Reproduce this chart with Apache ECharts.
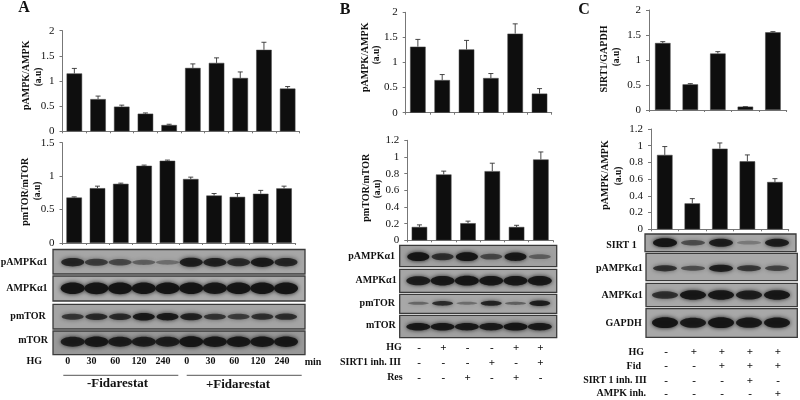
<!DOCTYPE html>
<html><head><meta charset="utf-8">
<script src="https://cdn.jsdelivr.net/npm/echarts@6/dist/echarts.min.js"></script>
<style>html,body{margin:0;padding:0;background:#fff}#c{width:800px;height:400px;filter:blur(0.45px)}</style>
</head><body><div id="c"></div>
<script>
// ---- values: bar value, top of error whisker ----
const timeLabels = ['0','30','60','120','240','0','30','60','120','240'];
const a1Values = [1.15,0.64,0.49,0.35,0.125,1.26,1.36,1.06,1.62,0.85];
const a1Tops   = [1.25,0.70,0.52,0.365,0.14,1.34,1.46,1.18,1.77,0.89];
const a2Values = [0.68,0.82,0.885,1.155,1.23,0.957,0.71,0.69,0.737,0.817];
const a2Tops   = [0.69,0.85,0.895,1.165,1.24,0.985,0.74,0.74,0.787,0.85];
const b1Values = [1.315,0.65,1.26,0.69,1.575,0.38];
const b1Tops   = [1.46,0.76,1.44,0.78,1.77,0.48];
const b2Values = [0.16,0.79,0.205,0.83,0.16,0.97];
const b2Tops   = [0.185,0.83,0.23,0.925,0.18,1.06];
const c1Values = [1.34,0.513,1.13,0.067,1.553];
const c1Tops   = [1.367,0.527,1.167,0.067,1.567];
const c2Values = [0.89,0.31,0.965,0.813,0.566];
const c2Tops   = [0.99,0.367,1.033,0.89,0.606];
// ---- blot band signal, 0..1 ----
const aPampk = [.75,.55,.45,.28,.18,.85,.8,.7,.88,.75];
const aAmpk  = [.95,.97,.97,.95,.95,.95,.92,.95,.95,.97];
const aPmtor = [.6,.72,.72,.9,.88,.8,.62,.55,.65,.68];
const aMtor  = [.85,.92,.85,.85,.85,.97,.92,.92,.92,.92];
const bPampk = [.97,.65,.97,.45,.9,.28];
const bAmpk  = [.85,.92,.97,.92,.92,.92];
const bPmtor = [.25,.7,.2,.78,.3,.85];
const bMtor  = [.9,.9,.88,.88,.95,.88];
const cSirt  = [.97,.42,.85,.1,.85];
const cPampk = [.65,.42,.85,.6,.5];
const cAmpk  = [.65,.92,.92,.85,.92];
const cGapdh = [.97,.88,.97,.9,.9];
// ---- treatment rows ----
const bHG   = ['-','+','-','-','+','+'];
const bSirt = ['-','-','-','+','-','+'];
const bRes  = ['-','-','+','-','+','-'];
const cHG   = ['-','+','+','+','+'];
const cFid  = ['-','-','+','+','+'];
const cSirtInh = ['-','-','-','+','-'];
const cAmpkInh = ['-','-','-','-','+'];

const SERIF = '"Liberation Serif","Times New Roman",serif';
const BLACK = '#0e0e0e';

const charts = [
 {vals:a1Values,tops:a1Tops,l:62.5,r:299.5,t:30.7,b:131.3,max:2,step:.5,title:'pAMPK/AMPK',tx:26,ty:75.3,ux:39,uy:77},
 {vals:a2Values,tops:a2Tops,l:62.5,r:295.7,t:142.7,b:243,max:1.5,step:.5,title:'pmTOR/mTOR',tx:25.3,ty:191.7,ux:37.7,uy:191},
 {vals:b1Values,tops:b1Tops,l:405.7,r:551.7,t:12.3,b:112.7,max:2,step:.5,title:'pAMPK/AMPK',tx:365,ty:57.3,ux:376.7,uy:55},
 {vals:b2Values,tops:b2Tops,l:407.3,r:553,t:140.3,b:240.3,max:1.2,step:.2,title:'pmTOR/mTOR',tx:366,ty:187.7,ux:377.7,uy:189},
 {vals:c1Values,tops:c1Tops,l:649,r:786.7,t:10,b:110,max:2,step:.5,title:'SIRT1/GAPDH',tx:604,ty:59,ux:616.7,uy:57},
 {vals:c2Values,tops:c2Tops,l:651,r:788.7,t:129,b:229.3,max:1.2,step:.2,title:'pAMPK/AMPK',tx:605.3,ty:175,ux:618.3,uy:176}
];
const blots = [
 {sig:aPampk,name:'pAMPKα1',l:53,r:305,t:249.5,b:274,by:262.3,lane0:72.7,step:23.7,w:23,th:10,nx:47.5,ny:262.7,bg:'#a6a6a6'},
 {sig:aAmpk,name:'AMPKα1',l:53,r:305,t:276,b:301,by:288.3,lane0:72.7,step:23.7,w:24,th:12,nx:47.5,ny:288,bg:'#ababab'},
 {sig:aPmtor,name:'pmTOR',l:53,r:305,t:304.3,b:329,by:316.7,lane0:72.7,step:23.7,w:22,th:8,nx:45.7,ny:316,bg:'#a4a4a4'},
 {sig:aMtor,name:'mTOR',l:53,r:305,t:331,b:354.7,by:341.7,lane0:72.7,step:23.7,w:24,th:11,nx:48,ny:340,bg:'#989898'},
 {sig:bPampk,name:'pAMPKα1',l:399.7,r:556.7,t:245.3,b:266.7,by:256.7,lane0:418.3,step:24.3,w:22,th:9,nx:395,ny:256,bg:'#a0a0a0'},
 {sig:bAmpk,name:'AMPKα1',l:399.7,r:556.7,t:269.3,b:292.3,by:280.7,lane0:418.3,step:24.3,w:24,th:10,nx:396.7,ny:280,bg:'#a6a6a6'},
 {sig:bPmtor,name:'pmTOR',l:399.7,r:556.7,t:294.3,b:313.3,by:303.3,lane0:418.3,step:24.3,w:21,th:6,nx:395,ny:303.3,bg:'#a8a8a8'},
 {sig:bMtor,name:'mTOR',l:399.7,r:556.7,t:315.3,b:337.7,by:326.7,lane0:418.3,step:24.3,w:24,th:8,nx:395.7,ny:325.7,bg:'#a0a0a0'},
 {sig:cSirt,name:'SIRT 1',l:645,r:796,t:234,b:251.7,by:242.7,lane0:665,step:28,w:24,th:9,nx:636.7,ny:245.7,bg:'#a6a6a6'},
 {sig:cPampk,name:'pAMPKα1',l:646,r:797.3,t:253.3,b:280.7,by:268.3,lane0:665,step:28,w:24,th:8,nx:642.7,ny:268.7,bg:'#a8a8a8'},
 {sig:cAmpk,name:'AMPKα1',l:646,r:797.3,t:283.3,b:306.7,by:295,lane0:665,step:28,w:26,th:10,nx:642.7,ny:295.7,bg:'#a8a8a8'},
 {sig:cGapdh,name:'GAPDH',l:646,r:797.3,t:308.7,b:337.3,by:322.7,lane0:665,step:28,w:26,th:11,nx:641.7,ny:323,bg:'#a8a8a8'}
];

const grid=[],xAxis=[],yAxis=[],series=[],graphic=[];
function text(x,y,s,o){o=o||{};graphic.push({type:'text',x:x,y:y,rotation:o.rot||0,silent:true,style:{
  text:s,font:(o.normal?'':'bold ')+(o.size||10)+'px '+SERIF,fill:'#111',
  textAlign:o.align||'center',textVerticalAlign:'middle'}});}
function line(x1,x2,y){graphic.push({type:'line',shape:{x1:x1,x2:x2,y1:y,y2:y},style:{stroke:'#555',lineWidth:1}});}

charts.forEach(function(c){
  const i=grid.length;
  grid.push({left:c.l,top:c.t,width:c.r-c.l,height:c.b-c.t,show:false});
  xAxis.push({type:'category',gridIndex:i,data:c.vals.map(function(_,k){return k+1;}),
    axisLine:{lineStyle:{color:'#777',width:1}},axisTick:{show:true,length:2,alignWithLabel:false,lineStyle:{color:'#777'}},
    axisLabel:{show:false},splitLine:{show:false}});
  yAxis.push({type:'value',gridIndex:i,min:0,max:c.max,interval:c.step,
    axisLine:{show:true,lineStyle:{color:'#777',width:1}},axisTick:{show:true,length:3,lineStyle:{color:'#777'}},
    axisLabel:{color:'#111',fontFamily:SERIF,fontSize:11,margin:8,showMinLabel:true,showMaxLabel:true},splitLine:{show:false}});
  series.push({type:'bar',xAxisIndex:i,yAxisIndex:i,data:c.vals,barWidth:15.5,silent:true,
    itemStyle:{color:BLACK,borderColor:'#444',borderWidth:.5}});
  series.push({type:'custom',xAxisIndex:i,yAxisIndex:i,silent:true,z:1,
    data:c.vals.map(function(v,k){return [k,v,c.tops[k]];}),
    renderItem:function(p,api){
      const a=api.coord([api.value(0),api.value(1)]),b=api.coord([api.value(0),api.value(2)]);
      const st={stroke:'#333',lineWidth:.9};
      return {type:'group',children:[
        {type:'line',shape:{x1:a[0],y1:a[1],x2:a[0],y2:b[1]},style:st},
        {type:'line',shape:{x1:a[0]-2.5,y1:b[1],x2:a[0]+2.5,y2:b[1]},style:st}]};
    }});
  text(c.tx,c.ty,c.title,{rot:Math.PI/2,size:10});
  text(c.ux,c.uy,'(a.u)',{rot:Math.PI/2,size:9.5});
});

blots.forEach(function(b){
  const i=grid.length,H=b.b-b.t;
  grid.push({left:b.l,top:b.t,width:b.r-b.l,height:H,show:true,backgroundColor:b.bg,borderColor:'#3a3a3a',borderWidth:1.3});
  xAxis.push({type:'value',gridIndex:i,show:false,min:(b.l-b.lane0)/b.step,max:(b.r-b.lane0)/b.step});
  yAxis.push({type:'value',gridIndex:i,show:false,min:0,max:1});
  const frac=(b.b-b.by)/H;
  series.push({type:'custom',xAxisIndex:i,yAxisIndex:i,silent:true,
    data:b.sig.map(function(s,k){return [k,frac,s];}),
    renderItem:function(p,api){
      const c=api.coord([api.value(0),api.value(1)]),s=api.value(2);
      const dark=0.2+0.8*s,h=b.th*(0.35+0.65*s),col='rgba(20,20,20,'+dark+')';
      return {type:'ellipse',shape:{cx:c[0],cy:c[1],rx:b.w/2,ry:h/2},
        style:{fill:col,shadowBlur:4,shadowColor:col}};
    }});
  text(b.nx,b.ny,b.name,{align:'right'});
});

// panel letters
text(24,8,'A',{size:16});text(345,10,'B',{size:16});text(584,10,'C',{size:16});
// panel A footer
text(34.3,361.7,'HG');
timeLabels.forEach(function(s,k){text(67.7+k*23.8,361.7,s);});
text(313,362,'min');
line(63.3,178.3,375.3);line(186.7,301.7,375.3);
text(117.5,383.3,'-Fidarestat',{size:13});text(238,385,'+Fidarestat',{size:13});
// treatment tables
function marks(arr,x0,dx,y,name,rx){
  text(rx,y,name,{align:'right'});
  arr.forEach(function(s,k){text(x0+k*dx,y,s,{size:11});});
}
marks(bHG,419,24.3,347.7,'HG',401.7);
marks(bSirt,419,24.3,362.7,'SIRT1 inh. III',401);
marks(bRes,419,24.3,377.7,'Res',402.7);
marks(cHG,666,28,352.3,'HG',644);
marks(cFid,666,28,366,'Fid',641);
marks(cSirtInh,666,28,380.7,'SIRT 1 inh. III',646.7);
marks(cAmpkInh,666,28,393.7,'AMPK inh.',646);

const chart=echarts.init(document.getElementById('c'),null,{renderer:'canvas'});
chart.setOption({animation:false,backgroundColor:'#fff',grid:grid,xAxis:xAxis,yAxis:yAxis,series:series,graphic:{elements:graphic}});
</script></body></html>
